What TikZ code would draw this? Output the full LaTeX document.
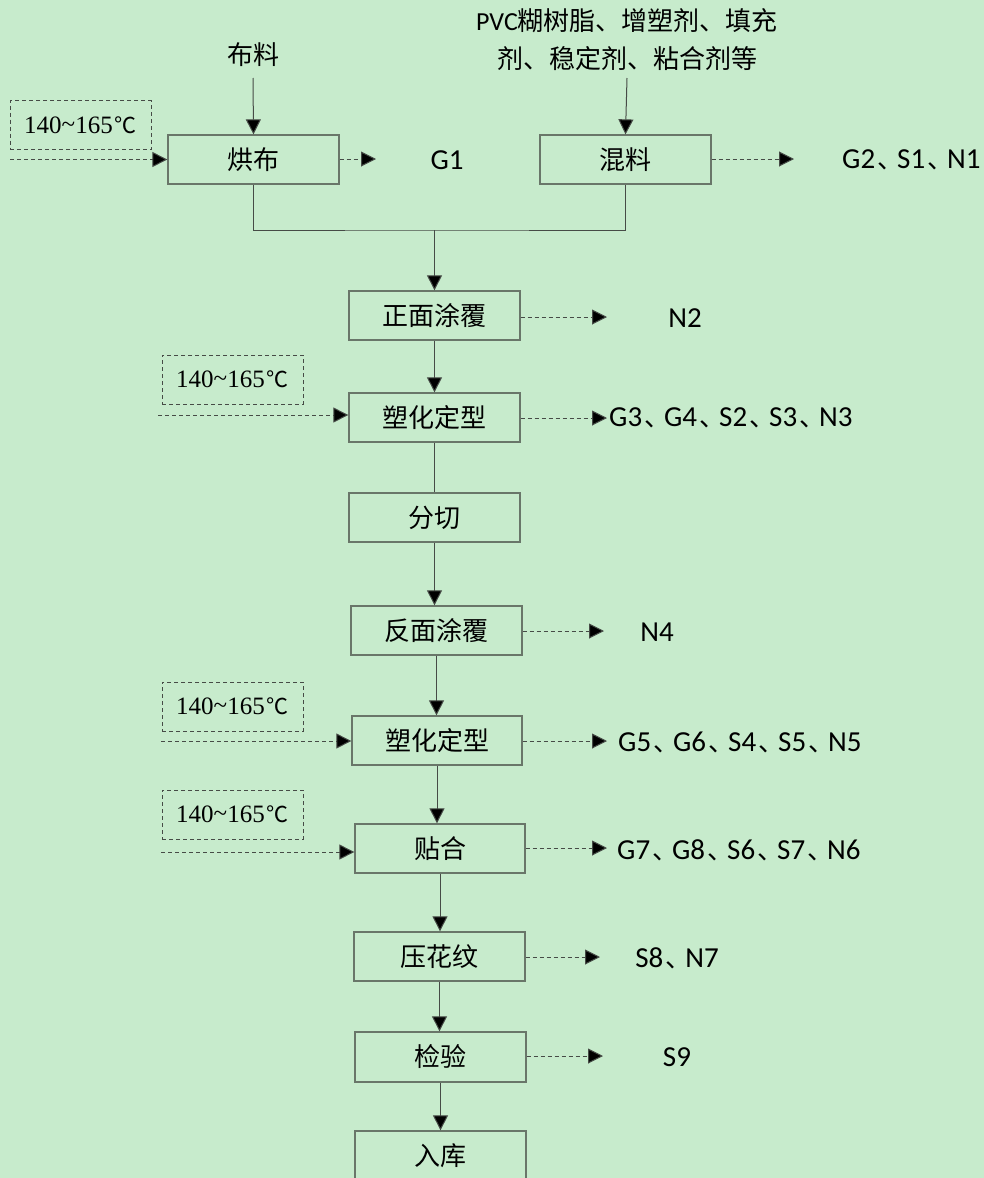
\documentclass[tikz,border=0pt]{standalone}
\usepackage{fontspec}
\setmainfont{Liberation Serif}
\newfontfamily\cjk{Noto Sans CJK SC}
\newfontfamily\lbl{Carlito}
\newfontfamily\tms{Liberation Serif}
\usetikzlibrary{arrows.meta}
\definecolor{bg}{RGB}{199,235,204}
\definecolor{boxline}{RGB}{105,118,105}
\definecolor{conline}{RGB}{70,75,70}
% enumeration comma between emission codes
\newcommand{\dun}{\makebox[22pt][l]{\hspace{2pt}\cjk\fontsize{26}{26}\selectfont 、}}
\newcommand{\temp}{{\tms 140\raisebox{1pt}{\char`~}165}\hspace{2pt}{\cjk\fontsize{22}{24}\selectfont ℃}}
\tikzset{
  stepbox/.style={draw=boxline, line width=1.3pt, fill=none, minimum width=171pt, minimum height=49pt,
    inner sep=0pt, font=\cjk\fontsize{26}{30}\selectfont},
  tempbox/.style={draw=conline, dashed, dash pattern=on 4pt off 3pt, line width=0.9pt, minimum width=141pt,
    minimum height=49pt, inner sep=0pt, font=\fontsize{25}{28}\selectfont},
  flow/.style={draw=conline, line width=1pt, -{Triangle[length=15pt,width=15pt,fill=black]}},
  emit/.style={draw=conline, line width=1pt, dash pattern=on 4pt off 3pt, -{Triangle[length=15pt,width=15pt,fill=black]}},
  feed/.style={emit},
  plain/.style={draw=conline, line width=1pt},
  rawtext/.style={font=\cjk\fontsize{26}{30}\selectfont, inner sep=0pt, align=center},
  outtext/.style={font=\lbl\fontsize{29}{32}\selectfont, inner sep=0pt},
}
\begin{document}
\begin{tikzpicture}[x=1pt,y=-1pt]
\fill[bg] (0,0) rectangle (984,1178);
\clip (0,0) rectangle (984,1178);

% raw materials
\node[rawtext] (bl) at (253,55) {布料};
\node[rawtext, font=\cjk\fontsize{26}{38}\selectfont] (pvc) at (627,40) {{\lbl PVC}糊树脂、增塑剂、填充\\剂、稳定剂、粘合剂等};
\coordinate (blend) at (253,78);
\coordinate (pvcend) at (627,78);

% process steps
\node[stepbox] (hb) at (253.5,159.5) {烘布};
\node[stepbox] (hl) at (625.5,159.5) {混料};
\node[stepbox] (zm) at (434.5,315.5) {正面涂覆};
\node[stepbox] (sh1) at (434.5,417.5) {塑化定型};
\node[stepbox] (fq) at (434.5,517.5) {分切};
\node[stepbox] (fm) at (436.5,630.5) {反面涂覆};
\node[stepbox, minimum width=170pt] (sh2) at (437,740.5) {塑化定型};
\node[stepbox, minimum width=170pt] (th) at (440,848.5) {贴合};
\node[stepbox] (yh) at (439.5,956.5) {压花纹};
\node[stepbox, minimum height=50pt] (jy) at (440.5,1057) {检验};
\node[stepbox] (rk) at (440.5,1155.5) {入库};

% temperature settings
\node[tempbox] (t1) at (80.5,125) {\temp};
\node[tempbox] (t2) at (232.5,379.5) {\temp};
\node[tempbox] (t3) at (232.5,706.5) {\temp};
\node[tempbox] (t4) at (232.5,814.5) {\temp};
\coordinate (t1s) at (10,159.5);
\coordinate (t2s) at (158,415);
\coordinate (t3s) at (161,741);
\coordinate (t4s) at (161,852);

% emissions
\node[outtext] (o1) at (447,160) {G1};
\node[outtext, anchor=west] (o2) at (842,160) {G2\dun S1\dun N1};
\node[outtext] (o3) at (685,318) {N2};
\node[outtext, anchor=west] (o4) at (609,418) {G3\dun G4\dun S2\dun S3\dun N3};
\node[outtext] (o5) at (657,632) {N4};
\node[outtext, anchor=west] (o6) at (618,742) {G5\dun G6\dun S4\dun S5\dun N5};
\node[outtext, anchor=west] (o7) at (617,850) {G7\dun G8\dun S6\dun S7\dun N6};
\node[outtext] (o8) at (677,958) {S8\dun N7};
\node[outtext] (o9) at (677,1057) {S9};
\coordinate (e1) at (376,159);
\coordinate (e2) at (794,159);
\coordinate (e3) at (607,317);
\coordinate (e4) at (607,418);
\coordinate (e5) at (604,631);
\coordinate (e6) at (607,741);
\coordinate (e7) at (607,848);
\coordinate (e8) at (600,957);
\coordinate (e9) at (603,1056);

% main flow
\draw[flow] (blend) -- (hb.north);
\draw[flow] (pvcend) -- (hl.north);
\coordinate (mj) at (434.5,230);
\draw[plain] (hb.south) |- (mj) -| (hl.south);
\draw[flow] (mj) -- (zm.north);
\draw[flow] (zm.south) -- (zm.south |- sh1.north);
\draw[plain] (sh1.south) -- (sh1.south |- fq.north);
\draw[flow] (fq.south) -- (fq.south |- fm.north);
\draw[flow] (fm.south) -- (fm.south |- sh2.north);
\draw[flow] (sh2.south) -- (sh2.south |- th.north);
\draw[flow] (th.south) -- (th.south |- yh.north);
\draw[flow] (yh.south) -- (yh.south |- jy.north);
\draw[flow] (jy.south) -- (jy.south |- rk.north);

% heat inputs
\draw[feed] (t1s) -- (t1s -| hb.west);
\draw[feed] (t2s) -- (t2s -| sh1.west);
\draw[feed] (t3s) -- (t3s -| sh2.west);
\draw[feed] (t4s) -- (t4s -| th.west);

% emission outputs
\draw[emit] (e1 -| hb.east) -- (e1);
\draw[emit] (e2 -| hl.east) -- (e2);
\draw[emit] (e3 -| zm.east) -- (e3);
\draw[emit] (e4 -| sh1.east) -- (e4);
\draw[emit] (e5 -| fm.east) -- (e5);
\draw[emit] (e6 -| sh2.east) -- (e6);
\draw[emit] (e7 -| th.east) -- (e7);
\draw[emit] (e8 -| yh.east) -- (e8);
\draw[emit] (e9 -| jy.east) -- (e9);
\end{tikzpicture}
\end{document}
